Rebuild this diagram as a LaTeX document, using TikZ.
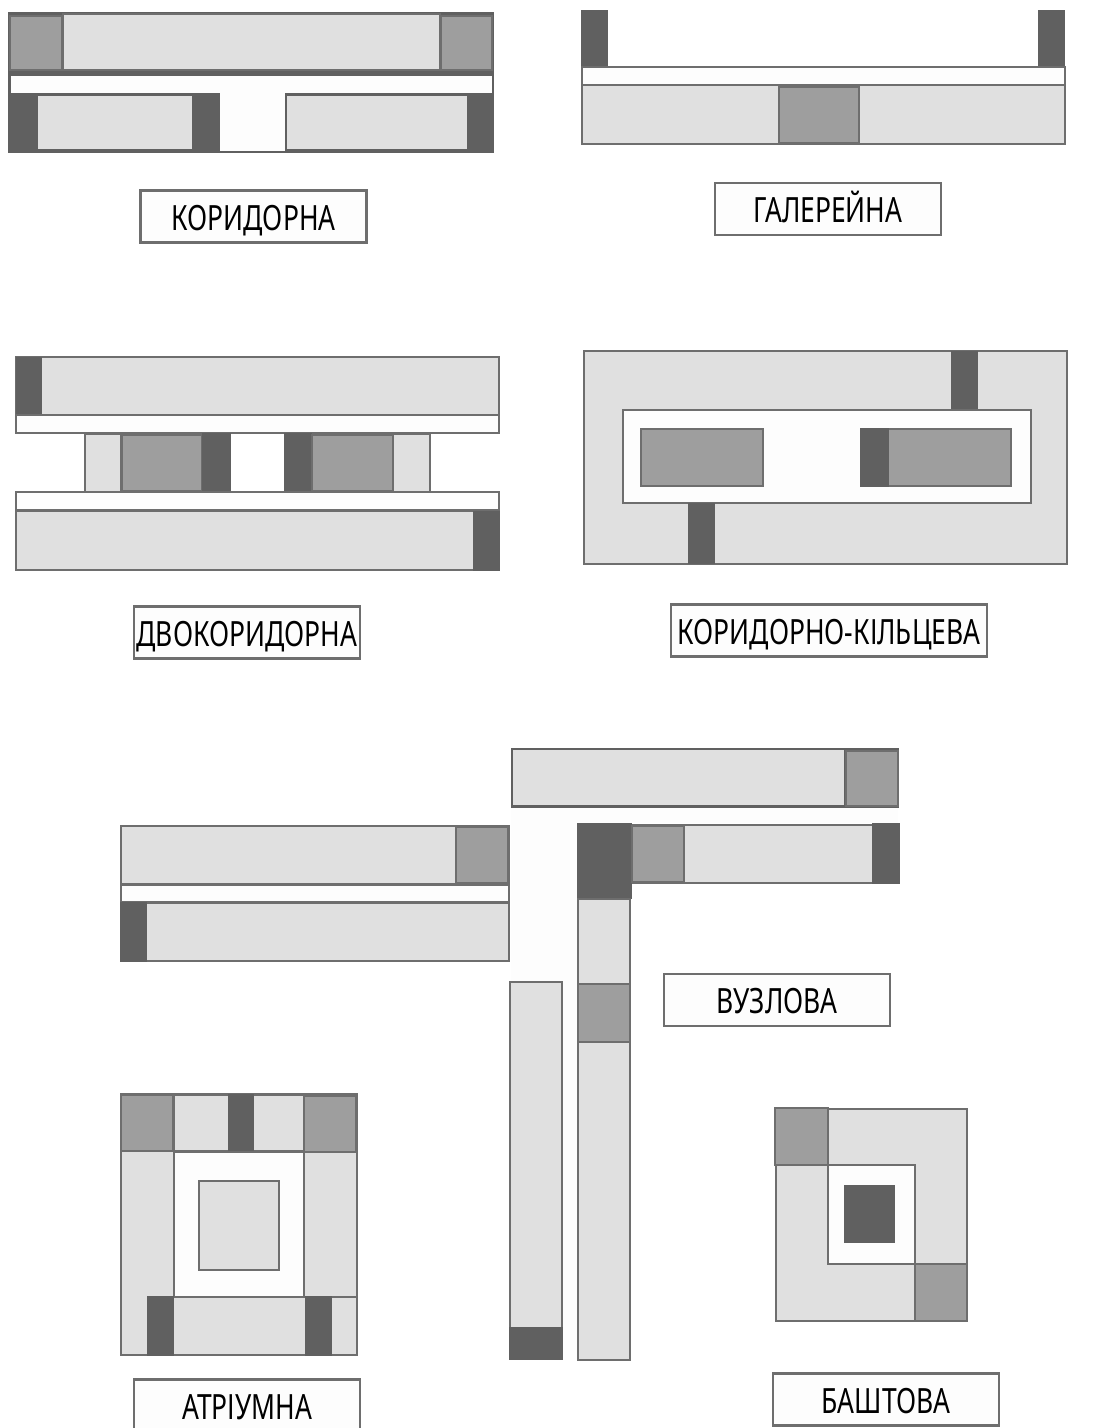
\documentclass[tikz,border=0pt]{standalone}
\usepackage{fontspec}
\setmainfont{Noto Sans}
\newfontfamily\captionfont[FakeStretch=0.76]{Noto Sans}
\usepackage{xcolor}
\definecolor{roomgray}{HTML}{E0E0E0}
\definecolor{stairgray}{HTML}{9E9E9E}
\definecolor{coregray}{HTML}{606060}
\definecolor{edgegray}{HTML}{6E6E6E}
\definecolor{hallwhite}{HTML}{FDFDFD}
\tikzset{
  room/.style={draw=edgegray, line width=1.5pt, fill=roomgray},
  stair/.style={draw=edgegray, line width=1.5pt, fill=stairgray},
  core/.style={fill=coregray},
  hall/.style={draw=edgegray, line width=1.5pt, fill=hallwhite},
  hallplain/.style={fill=hallwhite},
  caption/.style={draw=edgegray, line width=1.3pt, fill=hallwhite, minimum width=4.52cm, minimum height=1.04cm, inner sep=0pt, text height=0.54cm, text depth=0cm, font=\captionfont\fontsize{19.8}{22}\selectfont}
}
\begin{document}
\begin{tikzpicture}[x=0.02cm, y=-0.02cm]
\useasboundingbox (0, 0) rectangle (1102, 1428);
% corridor
\fill[core] (8, 12) rectangle (494, 153);
\draw[stair] (10, 16) rectangle (62, 70);
\draw[room] (63, 14) rectangle (440, 70);
\draw[stair] (441, 16) rectangle (492, 70);
\fill[hallplain] (11, 76) rectangle (492, 93);
\fill[hallplain] (220, 93) rectangle (285, 151);
\fill[roomgray] (38, 96) rectangle (192, 149);
\fill[roomgray] (287, 96) rectangle (467, 149);
\node[caption] (corridor) at (253.5, 216.5) {КОРИДОРНА};
% gallery
\fill[core] (581, 10) rectangle (608, 67);
\fill[core] (1038, 10) rectangle (1065, 67);
\draw[hall] (582, 67) rectangle (1065, 85);
\draw[room] (582, 85) rectangle (1065, 144);
\draw[stair] (779, 87) rectangle (859, 143);
\node[caption] (gallery) at (828, 209) {ГАЛЕРЕЙНА};
% double corridor
\draw[room] (16, 357) rectangle (499, 415);
\fill[core] (16, 357) rectangle (42, 415);
\draw[hall] (16, 415) rectangle (499, 433);
\draw[room] (85, 434) rectangle (121, 492);
\draw[stair] (122, 435) rectangle (202, 491);
\fill[core] (202, 433) rectangle (231, 492);
\fill[core] (284, 433) rectangle (312, 492);
\draw[stair] (312, 435) rectangle (393, 491);
\draw[room] (393, 434) rectangle (430, 492);
\draw[hall] (16, 492) rectangle (499, 510);
\draw[room] (16, 511) rectangle (499, 570);
\fill[core] (473, 511) rectangle (500, 571);
\node[caption] (doublecorridor) at (247, 632.5) {ДВОКОРИДОРНА};
% ring corridor
\draw[room] (584, 351) rectangle (1067, 564);
\fill[core] (951, 351) rectangle (978, 410);
\draw[hall] (623, 410) rectangle (1031, 503);
\draw[stair] (641, 429) rectangle (763, 486);
\draw[stair] (861, 429) rectangle (1011, 486);
\fill[core] (860, 428) rectangle (889, 487);
\fill[core] (688, 503) rectangle (715, 564);
\node[caption, minimum width=6.32cm] (ringcorridor) at (829, 630.5) {КОРИДОРНО-КІЛЬЦЕВА};
% nodal
\draw[room] (121, 826) rectangle (509, 884);
\draw[stair] (456, 827) rectangle (508, 883);
\draw[hall] (121, 885) rectangle (509, 902);
\draw[room] (121, 903) rectangle (509, 961);
\fill[core] (120, 902) rectangle (147, 962);
\fill[core] (511, 748) rectangle (899, 808);
\fill[roomgray] (513, 750) rectangle (844, 805);
\draw[stair] (846, 751) rectangle (898, 806);
\fill[hallplain] (511, 808) rectangle (898, 823);
\fill[hallplain] (511, 823) rectangle (577, 981);
\fill[hallplain] (563, 981) rectangle (577, 1360);
\draw[room] (632, 825) rectangle (899, 883);
\fill[core] (577, 823) rectangle (632, 899);
\draw[stair] (632, 826) rectangle (684, 882);
\fill[core] (872, 823) rectangle (900, 884);
\draw[room] (578, 899) rectangle (630, 1360);
\draw[stair] (578, 984) rectangle (630, 1042);
\draw[room] (510, 982) rectangle (562, 1359);
\fill[core] (509, 1327) rectangle (563, 1360);
\node[caption] (nodal) at (777, 1000) {ВУЗЛОВА};
% atrium
\draw[room] (121, 1094) rectangle (357, 1355);
\draw[stair] (121, 1095) rectangle (173, 1151);
\draw[room] (174, 1095) rectangle (304, 1151);
\fill[core] (228, 1094) rectangle (254, 1151);
\draw[stair] (304, 1096) rectangle (356, 1152);
\draw[hall] (174, 1152) rectangle (304, 1297);
\draw[room] (199, 1181) rectangle (279, 1270);
\draw[edgegray, line width=1.5pt] (304, 1297) -- (357, 1297);
\fill[core] (147, 1296) rectangle (174, 1356);
\fill[core] (305, 1296) rectangle (332, 1356);
\node[caption] (atrium) at (247, 1405.5) {АТРІУМНА};
% tower
\draw[room] (776, 1109) rectangle (967, 1321);
\draw[stair] (775, 1108) rectangle (828, 1165);
\draw[hall] (828, 1165) rectangle (915, 1264);
\fill[core] (844, 1185) rectangle (895, 1243);
\draw[stair] (915, 1264) rectangle (967, 1321);
\node[caption] (tower) at (886, 1399.5) {БАШТОВА};
\end{tikzpicture}
\end{document}
